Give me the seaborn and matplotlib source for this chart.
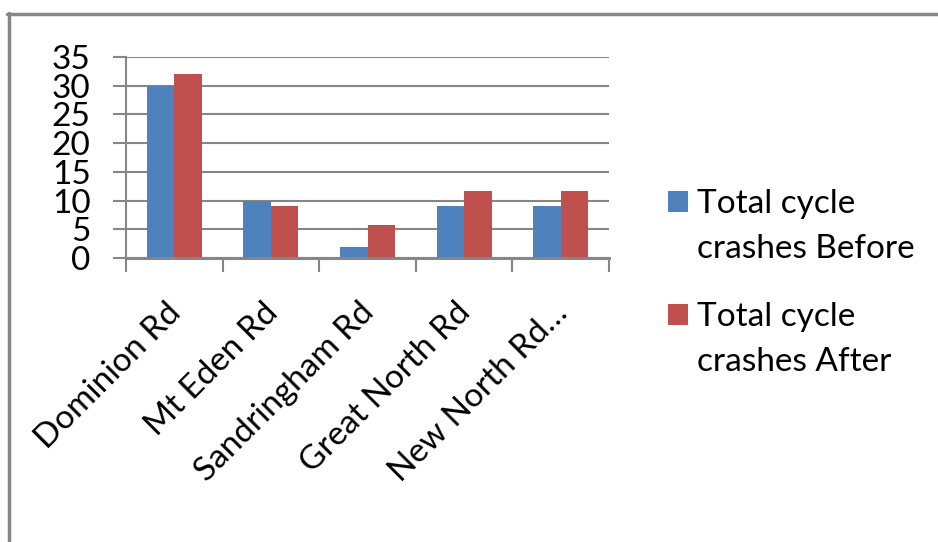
import matplotlib
matplotlib.use("Agg")
import matplotlib.pyplot as plt
import seaborn as sns
import pandas as pd
from matplotlib.transforms import ScaledTranslation
from matplotlib.patches import Rectangle
from matplotlib.lines import Line2D

categories = ["Dominion Rd", "Mt Eden Rd", "Sandringham Rd", "Great North Rd", "New North Rd…"]
before = [30, 10, 2, 9, 9]
after = [32, 9, 5.7, 11.7, 11.7]
series_names = ["Total cycle crashes Before", "Total cycle crashes After"]
legend_lines = [["Total cycle", "crashes Before"], ["Total cycle", "crashes After"]]
yticks = [0, 5, 10, 15, 20, 25, 30, 35]
colors = ["#4F81BD", "#C0504D"]

df = pd.DataFrame({
    "Road": categories * 2,
    "Crashes": before + after,
    "Series": [series_names[0]] * len(categories) + [series_names[1]] * len(categories),
})

sns.set_style("white")
plt.rcParams["font.family"] = ["Lato", "DejaVu Sans"]

W, H = 938, 542
fig = plt.figure(figsize=(W / 100, H / 100), dpi=100)
ax = fig.add_axes([126 / W, 1 - 258 / H, (609 - 126) / W, (258 - 57) / H])

sns.barplot(data=df, x="Road", y="Crashes", hue="Series", palette=colors,
            width=0.57, gap=0, saturation=1, ax=ax, legend=False, zorder=3,
            linewidth=0, edgecolor="none")

grid_c = "#868686"
ax.set_xlim(-0.5, len(categories) - 0.5)
ax.set_ylim(0, 35)
ax.set_yticks(yticks)
ax.set_yticklabels([str(v) for v in yticks], fontsize=24)
ax.yaxis.grid(True, color=grid_c, lw=1.5, zorder=0)
ax.set_axisbelow(True)
ax.tick_params(axis="y", direction="out", length=9.5, width=1.5, color=grid_c,
               pad=16, labelcolor="black", left=True)
for s in ["top", "right"]:
    ax.spines[s].set_visible(False)
ax.spines["left"].set_color(grid_c)
ax.spines["left"].set_linewidth(1.5)
ax.spines["bottom"].set_color(grid_c)
ax.spines["bottom"].set_linewidth(2.2)
ax.spines["bottom"].set_zorder(4)
ax.set_xlabel("")
ax.set_ylabel("")

ax.set_xticks(range(len(categories)))
ax.set_xticklabels([])
ax.tick_params(axis="x", which="major", length=0)
ax.set_xticks([i - 0.5 for i in range(len(categories) + 1)], minor=True)
ax.tick_params(axis="x", which="minor", direction="out", length=10, width=1.5,
               color=grid_c, bottom=True)

off = ScaledTranslation(2 / 100, -50 / 100, fig.dpi_scale_trans)
for i, lab in enumerate(categories):
    ax.text(i, 0, lab, transform=ax.get_xaxis_transform() + off, rotation=45,
            ha="right", va="center", rotation_mode="anchor", fontsize=24,
            color="black")

# legend
sq = [(668, 191), (668, 304)]
for (x0, y0), c, lines in zip(sq, colors, legend_lines):
    fig.add_artist(Rectangle((x0 / W, 1 - (y0 + 21) / H), 20 / W, 21 / H,
                             transform=fig.transFigure, color=c, lw=0))
    base = y0 + 22
    for k, t in enumerate(lines):
        fig.text(697 / W, 1 - (base + 45 * k) / H, t, fontsize=24,
                 va="baseline", ha="left", color="black")

# chart border
fig.add_artist(Line2D([7 / W, 1], [1 - 13.5 / H, 1 - 13.5 / H],
                      transform=fig.transFigure, color=grid_c, lw=2.5))
fig.add_artist(Line2D([8.5 / W, 8.5 / W], [0, 1 - 12.5 / H],
                      transform=fig.transFigure, color=grid_c, lw=2.5))

fig.savefig("out.png", dpi=100)
